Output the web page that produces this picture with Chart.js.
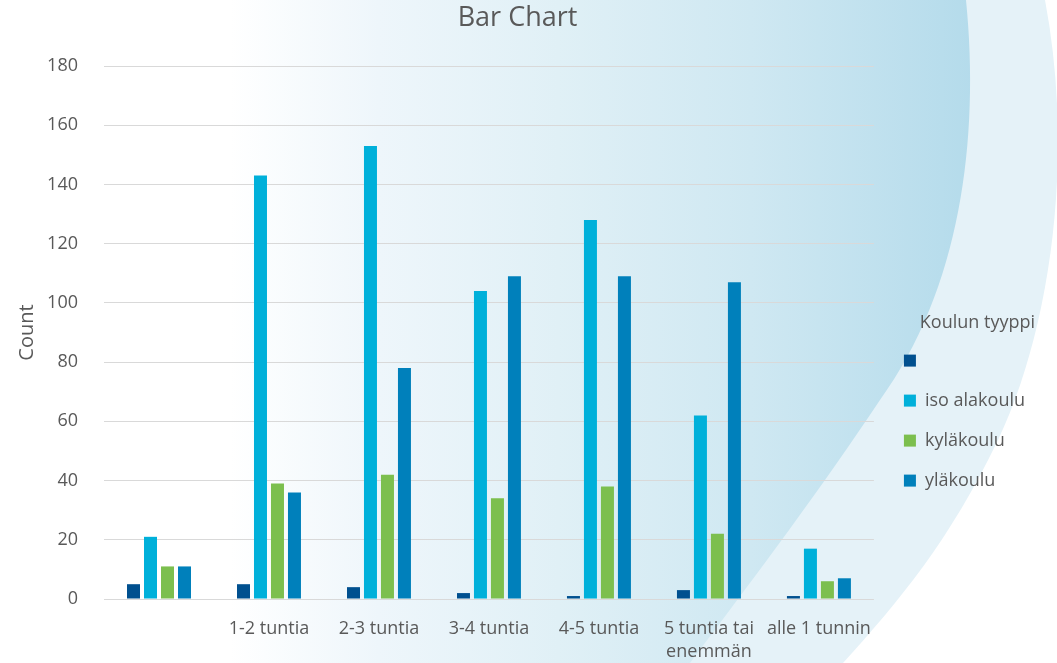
<!DOCTYPE html>
<html>
<head>
<meta charset="utf-8">
<title>Bar Chart</title>
<script src="https://cdn.jsdelivr.net/npm/chart.js@4.4.1/dist/chart.umd.min.js"></script>
<style>
  html, body { margin: 0; padding: 0; background: #ffffff; }
  #wrap { width: 1057px; height: 663px; position: relative; }
</style>
</head>
<body>
<div id="wrap"><canvas id="bar_chart"></canvas></div>
<script>
// categories (x axis) and series
let categories = ["", "1-2 tuntia", "2-3 tuntia", "3-4 tuntia", "4-5 tuntia", ["5 tuntia tai", "enemmän"], "alle 1 tunnin"];
let seriesNames = ["", "iso alakoulu", "kyläkoulu", "yläkoulu"];
let blankValues = [5, 5, 4, 2, 1, 3, 1];
let isoAlakouluValues = [21, 143, 153, 104, 128, 62, 17];
let kylakouluValues = [11, 39, 42, 34, 38, 22, 6];
let ylakouluValues = [11, 36, 78, 109, 109, 107, 7];
let yTickValues = [0, 20, 40, 60, 80, 100, 120, 140, 160, 180];

let barColors = ["#00508f", "#00b0da", "#7cbf4e", "#0080bb"];
let textColor = "#595959";

Chart.defaults.font.family = "'Open Sans', sans-serif";
Chart.defaults.color = textColor;

// the blue swoosh behind the chart
const backgroundShapes = {
    id: "backgroundShapes",
    beforeDraw(chart) {
        const ctx = chart.ctx;
        ctx.save();
        ctx.fillStyle = "#ffffff";
        ctx.fillRect(0, 0, chart.width, chart.height);

        // pale band
        ctx.beginPath();
        ctx.moveTo(0, 0);
        ctx.lineTo(1045, 0);
        ctx.bezierCurveTo(1075, 160, 1050, 330, 998, 440);
        ctx.bezierCurveTo(950, 540, 900, 600, 843, 663);
        ctx.lineTo(0, 663);
        ctx.closePath();
        ctx.fillStyle = "#e5f2f8";
        ctx.fill();

        // main shape with gradient
        let grad = ctx.createLinearGradient(230, 0, 975, 0);
        grad.addColorStop(0, "#ffffff");
        grad.addColorStop(0.2, "#eef6fb");
        grad.addColorStop(0.44, "#e0f0f6");
        grad.addColorStop(0.7, "#cfe8f2");
        grad.addColorStop(1, "#b4dbeb");
        ctx.beginPath();
        ctx.moveTo(0, 0);
        ctx.lineTo(966, 0);
        ctx.bezierCurveTo(980, 140, 960, 290, 880, 400);
        ctx.bezierCurveTo(820, 490, 760, 570, 690, 663);
        ctx.lineTo(0, 663);
        ctx.closePath();
        ctx.fillStyle = grad;
        ctx.fill();
        ctx.restore();
    }
};

let seriesValues = [blankValues, isoAlakouluValues, kylakouluValues, ylakouluValues];
let datasets = seriesNames.map(function (name, i) {
    return {
        label: name,
        data: seriesValues[i],
        backgroundColor: barColors[i],
        categoryPercentage: 0.618,
        barPercentage: 0.765
    };
});

new Chart("bar_chart", {
    type: "bar",
    data: {
        labels: categories,
        datasets: datasets
    },
    plugins: [backgroundShapes],
    options: {
        responsive: true,
        maintainAspectRatio: false,
        animation: false,
        layout: { padding: { left: 0, right: 22, top: 0, bottom: 0 } },
        plugins: {
            title: {
                display: true,
                text: "Bar Chart",
                color: textColor,
                font: { size: 27, weight: "normal" },
                padding: { top: 2, bottom: 31.6 }
            },
            legend: {
                position: "right",
                align: "start",
                title: {
                    display: true,
                    text: "Koulun tyyppi",
                    position: "end",
                    color: textColor,
                    font: { size: 18 },
                    padding: { top: 314, bottom: -6 }
                },
                labels: {
                    boxWidth: 12,
                    boxHeight: 12,
                    padding: 22,
                    color: textColor,
                    font: { size: 18 }
                }
            },
            tooltip: { enabled: false }
        },
        scales: {
            x: {
                grid: { display: false, drawTicks: false },
                border: { display: false },
                ticks: {
                    color: textColor,
                    font: { size: 18, lineHeight: 1.28 },
                    padding: 18,
                    maxRotation: 0,
                    autoSkip: false
                },
                afterFit: function (scale) { scale.height = 64; }
            },
            y: {
                min: yTickValues[0],
                max: yTickValues[yTickValues.length - 1],
                grid: { color: "#d9d9d9", lineWidth: 1, drawTicks: false },
                border: { display: false },
                ticks: {
                    stepSize: yTickValues[1] - yTickValues[0],
                    color: textColor,
                    font: { size: 18 },
                    padding: 26
                },
                title: {
                    display: true,
                    text: "Count",
                    color: textColor,
                    font: { size: 20 },
                    padding: { top: 15, bottom: 0 }
                },
                afterFit: function (scale) { scale.width = 104; }
            },
            // empty spacer between plot and legend
            gap: {
                type: "linear",
                position: "right",
                grid: { display: false },
                border: { display: false },
                ticks: { display: false },
                afterFit: function (scale) { scale.width = 8; }
            }
        }
    }
});
</script>
</body>
</html>
